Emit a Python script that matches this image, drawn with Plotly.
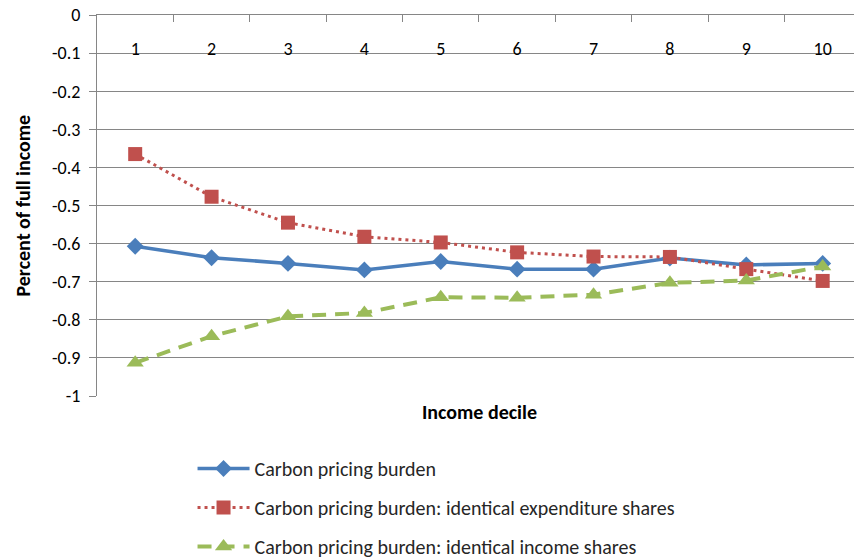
import plotly.graph_objects as go

deciles = ["1", "2", "3", "4", "5", "6", "7", "8", "9", "10"]
burden = [-0.607, -0.637, -0.652, -0.669, -0.647, -0.667, -0.667, -0.638, -0.656, -0.652]
burden_exp_shares = [-0.365, -0.477, -0.545, -0.582, -0.597, -0.623, -0.634, -0.635, -0.667, -0.698]
burden_inc_shares = [-0.913, -0.843, -0.791, -0.782, -0.741, -0.742, -0.734, -0.703, -0.697, -0.660]

y_ticks = [0, -0.1, -0.2, -0.3, -0.4, -0.5, -0.6, -0.7, -0.8, -0.9, -1]
y_tick_text = ["0", "-0.1", "-0.2", "-0.3", "-0.4", "-0.5", "-0.6", "-0.7", "-0.8", "-0.9", "-1"]

FONT = "Carlito, Lato, sans-serif"
GRID = "#868686"
X_RANGE = [-0.5, 9.41]

fig = go.Figure()
fig.add_trace(go.Scatter(
    x=deciles, y=burden, mode="lines+markers", name="Carbon pricing burden",
    legendgroup="a",
    line=dict(color="#4A7EBB", width=3.5),
    marker=dict(symbol="diamond", size=13, color="#4A7EBB"),
))
fig.add_trace(go.Scatter(
    x=deciles, y=burden_exp_shares, mode="lines+markers",
    name="Carbon pricing burden: identical expenditure shares",
    legendgroup="b",
    line=dict(color="#C0504D", width=3, dash="3px,4px"),
    marker=dict(symbol="square", size=14, color="#C0504D"),
))
fig.add_trace(go.Scatter(
    x=deciles, y=burden_inc_shares, mode="lines+markers",
    name="Carbon pricing burden: identical income shares",
    legendgroup="c",
    line=dict(color="#9BBB59", width=4, dash="14px,9px"),
    marker=dict(symbol="triangle-up", size=15, color="#9BBB59"),
))
# empty trace that carries the category labels drawn just under the top axis line
fig.add_trace(go.Scatter(
    x=deciles, y=[None] * len(deciles), xaxis="x2", mode="lines",
    showlegend=False, hoverinfo="skip",
))

fig.update_layout(
    width=854, height=558,
    margin=dict(l=97, r=0, t=15, b=162, autoexpand=False),
    paper_bgcolor="white", plot_bgcolor="white",
    font=dict(family=FONT, size=18, color="#000000"),
    xaxis=dict(
        type="category", side="top", range=X_RANGE, automargin=False,
        tickson="boundaries", ticks="inside", ticklen=7, tickcolor=GRID,
        showticklabels=False,
        showgrid=False, showline=True, linecolor=GRID, linewidth=1,
    ),
    xaxis2=dict(
        type="category", categoryarray=deciles, overlaying="x", anchor="free",
        position=0.885, side="top", range=X_RANGE, automargin=False,
        ticks="", showgrid=False, showline=False, zeroline=False,
        tickfont=dict(size=18),
    ),
    yaxis=dict(
        range=[-1, 0], tickvals=y_ticks, ticktext=y_tick_text, automargin=False,
        ticks="outside", ticklen=7, tickcolor=GRID, ticklabelstandoff=5,
        showgrid=True, gridcolor=GRID, gridwidth=1,
        zeroline=False, showline=True, linecolor=GRID, linewidth=1,
        tickfont=dict(size=18),
    ),
    showlegend=True,
    legend=dict(
        x=0.1262, y=-0.139, xanchor="left", yanchor="top",
        font=dict(size=20, color="#262626"), tracegroupgap=10, itemwidth=52,
    ),
    annotations=[
        dict(text="<b>Income decile</b>", x=0.505, y=-0.042, xref="paper", yref="paper",
             xanchor="center", yanchor="middle", showarrow=False, font=dict(size=20)),
        dict(text="<b>Percent of full income</b>", x=-0.099, y=0.5, xref="paper", yref="paper",
             xanchor="center", yanchor="middle", textangle=-90, showarrow=False,
             font=dict(size=20)),
    ],
)

# drop the default page margin so the figure sits at the window's top-left corner
fig.write_html(
    "out.html",
    config={"displayModeBar": False},
    post_script="document.body.style.margin = '0';",
)
